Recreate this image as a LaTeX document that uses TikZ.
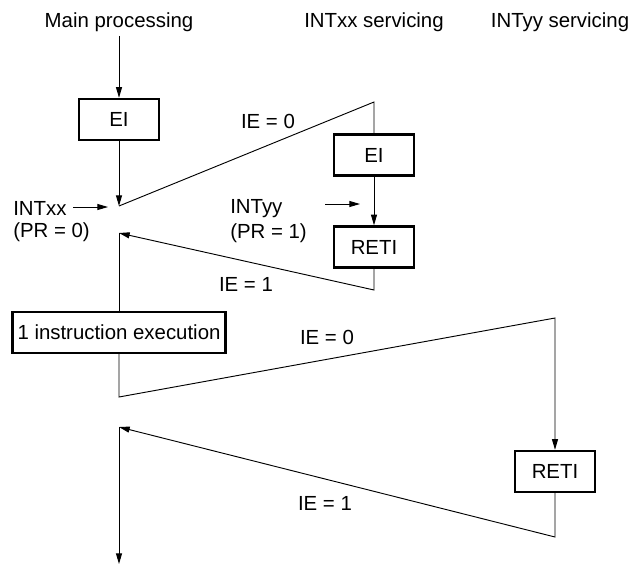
\documentclass[tikz,border=0pt]{standalone}
\usepackage{fontspec}
\setmainfont{Liberation Sans}
\usetikzlibrary{arrows.meta}

\begin{document}
\begin{tikzpicture}[
  x=0.75pt,y=-0.75pt,
  font=\fontsize{15.3}{18}\selectfont,
  box/.style={draw,line width=1.8pt,minimum width=60pt,minimum height=30.75pt,inner sep=0pt},
  flow/.style={line width=0.7pt},
  arr/.style={flow,-{Triangle[length=8pt,width=4.5pt]}},
  lbl/.style={anchor=base},
  lblw/.style={anchor=base west,inner sep=0pt},
]
  \useasboundingbox (0,0) rectangle (636,565);

  \node[lbl] (hmain) at (119,27) {Main processing};
  \node[lbl] (hxx) at (374,27) {INTxx servicing};
  \node[lbl] (hyy) at (560,27) {INTyy servicing};

  \node[box] (ei1) at (119,119.5) {EI};
  \node[box] (ei2) at (374,155) {EI};
  \node[box] (reti1) at (374,247) {RETI};
  \node[box,minimum width=160pt] (exec) at (119,332.5) {1 instruction execution};
  \node[box] (reti2) at (555,471.5) {RETI};

  \coordinate (p1) at (119,206);
  \coordinate (c1) at (374,102);
  \coordinate (c2) at (374,290);
  \coordinate (p2) at (119,233);
  \coordinate (p3) at (119,397);
  \coordinate (c3) at (555,318);
  \coordinate (c4) at (555,537);
  \coordinate (p4) at (119,427);
  \coordinate (pend) at (119,564);
  \coordinate (xxfrom) at (73,207);
  \coordinate (xxto) at (108,207);
  \coordinate (yyfrom) at (325,204);
  \coordinate (yyto) at (360,204);

  \draw[arr] (hmain) -- (ei1);
  \draw[arr] (ei1) -- (p1);
  \draw[flow] (p1) -- (c1) -- (ei2);
  \draw[arr] (ei2) -- (reti1);
  \draw[arr] (reti1) -- (c2) -- (p2);
  \draw[flow] (p2) -- (exec);
  \draw[arr] (exec) -- (p3) -- (c3) -- (reti2);
  \draw[arr] (reti2) -- (c4) -- (p4);
  \draw[arr] (p4) -- (pend);
  \draw[arr] (xxfrom) -- (xxto);
  \draw[arr] (yyfrom) -- (yyto);

  \node[lbl] (ie0a) at (268,128) {IE = 0};
  \node[lbl] (ie1a) at (246,291) {IE = 1};
  \node[lbl] (ie0b) at (327,344) {IE = 0};
  \node[lbl] (ie1b) at (325,510) {IE = 1};
  \node[lblw] (intxx) at (13,215) {INTxx};
  \node[lblw] (prxx) at (13,237) {(PR = 0)};
  \node[lblw] (intyy) at (230,213) {INTyy};
  \node[lblw] (pryy) at (230,238) {(PR = 1)};
\end{tikzpicture}
\end{document}
